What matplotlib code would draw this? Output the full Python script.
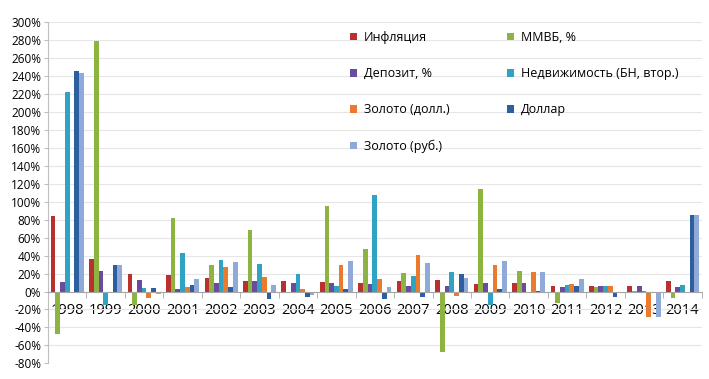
import matplotlib
matplotlib.use("Agg")
import matplotlib.pyplot as plt
import numpy as np

years = ["1998", "1999", "2000", "2001", "2002", "2003", "2004", "2005", "2006",
         "2007", "2008", "2009", "2010", "2011", "2012", "2013", "2014"]

labels = ["Инфляция", "ММВБ, %", "Депозит, %", "Недвижимость (БН, втор.)",
          "Золото (долл.)", "Доллар", "Золото (руб.)"]

inflation = [84, 36, 20, 18.5, 15, 12, 11.5, 11, 9, 11.5, 13, 8.5, 9, 6, 6.5, 6, 11.5]
micex = [-47, 279, -15, 82, 30, 69, 0, 95, 47, 21, -67, 114, 23, -13, 5, 1, -7]
deposit = [11, 23, 13, 3, 9.5, 12, 10, 9.5, 8.5, 6.5, 6, 9.5, 9, 5, 6.5, 6.5, 5]
realty = [222, -15, 4, 43, 35, 31, 19, 6, 107, 17, 22, -15, 0, 7, 6.5, 1, 7.5]
gold_usd = [-1, 0, -7, 5, 27, 16, 2.5, 30, 14.5, 41, -4.5, 29.5, 22, 8.5, 6.5, -28, 0]
dollar = [246, 30, 4, 7, 5, -8, -6, 3, -8.5, -6.5, 19, 3, 0.5, 6, -6, 0, 85]
gold_rub = [244, 29, -3, 13.5, 33, 7, -4, 34, 5, 32, 15, 34, 22, 14.5, 0, -28.5, 85]

series = [inflation, micex, deposit, realty, gold_usd, dollar, gold_rub]
colors = ["#B8312F", "#8DB340", "#6A4C9C", "#2EA3C4", "#EC7A2C", "#2D5E9F", "#8FAAD9"]

plt.rcParams["font.family"] = ["Open Sans", "DejaVu Sans"]

fig = plt.figure(figsize=(7.09, 3.79), dpi=100)
ax = fig.add_axes([0.0677, 0.0414, 0.922, 0.8998])

x = np.arange(len(years))
n = len(series)
w = 0.86 / n
handles = []
for i, (vals, c) in enumerate(zip(series, colors)):
    b = ax.bar(x - 0.43 + w * (i + 0.5), vals, width=w, color=c, zorder=2, linewidth=0)
    handles.append(b)

ax.set_xlim(-0.5, len(years) - 0.5)
ax.set_ylim(-80, 300)
yt = np.arange(-80, 301, 20)
ax.set_yticks(yt)
ax.set_yticklabels(["%d%%" % v for v in yt], fontsize=8.5)
ax.grid(axis="y", color="#E6E6E6", linewidth=0.8, zorder=0)
ax.set_axisbelow(True)

ax.spines["top"].set_visible(False)
ax.spines["right"].set_visible(False)
ax.spines["left"].set_color("#BFBFBF")
ax.spines["bottom"].set_position(("data", 0))
ax.spines["bottom"].set_color("#A6A6A6")

ax.set_xticks(x)
ax.set_xticklabels(years, fontsize=10.5)
ax.set_xticks(np.arange(-0.5, len(years)), minor=True)
ax.tick_params(axis="x", which="major", length=0, pad=8)
ax.tick_params(axis="x", which="minor", length=4, color="#A6A6A6", direction="out")
ax.tick_params(axis="y", length=3, color="#BFBFBF", pad=2)

# legend is filled column by column, so reorder to read row by row
order = [0, 2, 4, 6, 1, 3, 5]
ax.legend([handles[i] for i in order], [labels[i] for i in order], ncol=2,
          frameon=False, fontsize=9,
          loc="upper left", bbox_to_anchor=(350 / 709, 1 - 31 / 379),
          bbox_transform=fig.transFigure, borderaxespad=0, borderpad=0,
          handlelength=0.56, handleheight=0.56, handletextpad=0.55,
          labelspacing=1.85, columnspacing=4.6)

fig.savefig("out.png", dpi=100)
